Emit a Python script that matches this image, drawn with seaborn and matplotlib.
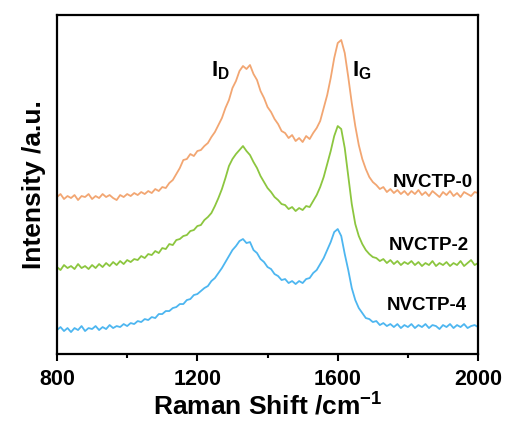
import numpy as np
import pandas as pd
import seaborn as sns
import matplotlib.pyplot as plt

# Raman shift axis (cm^-1), 10 cm^-1 steps
shift = list(range(800, 2001, 10))

# intensities (arbitrary units, stacked offsets included)
nvctp_0 = [157, 160, 155, 158, 156, 159, 154, 158, 157, 160,
           155, 158, 156, 160, 157, 159, 156, 154, 159, 157,
           160, 158, 161, 159, 162, 160, 163, 161, 165, 163,
           167, 166, 171, 174, 180, 186, 194, 195, 200, 198,
           203, 204, 208, 211, 217, 222, 229, 236, 246, 254,
           266, 273, 283, 288, 285, 289, 280, 274, 263, 256,
           247, 242, 235, 230, 223, 221, 216, 219, 213, 216,
           212, 218, 215, 221, 226, 233, 246, 259, 276, 296,
           311, 314, 301, 277, 251, 228, 209, 195, 185, 177,
           172, 169, 165, 167, 162, 165, 161, 164, 160, 163,
           159, 163, 160, 164, 159, 162, 158, 163, 160, 157,
           162, 159, 163, 158, 161, 157, 162, 160, 158, 162,
           161]
nvctp_2 = [87, 84, 89, 86, 88, 85, 90, 86, 88, 85,
           89, 86, 90, 87, 91, 88, 92, 89, 93, 90,
           94, 92, 95, 94, 98, 96, 100, 99, 103, 101,
           106, 105, 110, 109, 114, 115, 118, 119, 123, 124,
           128, 129, 134, 137, 141, 148, 156, 165, 176, 188,
           195, 200, 204, 208, 203, 199, 192, 186, 178, 172,
           166, 162, 157, 154, 150, 149, 145, 147, 143, 146,
           144, 148, 147, 153, 159, 167, 177, 190, 203, 218,
           228, 225, 206, 178, 150, 130, 118, 110, 104, 100,
           97, 96, 93, 95, 91, 94, 90, 93, 89, 92,
           90, 93, 89, 92, 88, 91, 89, 93, 88, 91,
           89, 92, 88, 91, 89, 93, 88, 91, 94, 89,
           91]
nvctp_4 = [24, 27, 23, 26, 22, 26, 24, 28, 23, 26,
           25, 28, 24, 27, 25, 29, 26, 28, 27, 30,
           28, 31, 30, 33, 32, 35, 34, 37, 36, 40,
           40, 43, 43, 46, 47, 50, 50, 54, 55, 59,
           60, 63, 66, 68, 73, 76, 81, 86, 92, 98,
           104, 108, 113, 115, 111, 112, 104, 101, 95, 92,
           87, 85, 80, 78, 74, 75, 71, 73, 70, 73,
           71, 75, 76, 81, 84, 90, 96, 104, 112, 122,
           125, 118, 100, 84, 66, 54, 46, 41, 36, 35,
           32, 33, 29, 31, 28, 30, 27, 30, 26, 29,
           27, 30, 26, 29, 27, 30, 26, 29, 28, 25,
           29, 27, 30, 26, 29, 27, 30, 26, 28, 29,
           27]

samples = ["NVCTP-0", "NVCTP-2", "NVCTP-4"]
colors = ["#F2A672", "#8CC63F", "#4DB6F0"]

df = pd.concat([
    pd.DataFrame({"shift": shift, "intensity": vals, "sample": name})
    for name, vals in zip(samples, [nvctp_0, nvctp_2, nvctp_4])
])

sns.set_style("ticks")
plt.rcParams["font.family"] = ["Liberation Sans", "DejaVu Sans"]
plt.rcParams["mathtext.fontset"] = "custom"
plt.rcParams["mathtext.rm"] = "Liberation Sans:bold"
plt.rcParams["mathtext.bf"] = "Liberation Sans:bold"
plt.rcParams["mathtext.default"] = "bf"
for key in ["text.color", "axes.labelcolor", "xtick.color", "ytick.color"]:
    plt.rcParams[key] = "black"

fig = plt.figure(figsize=(5.07, 4.23), dpi=100)
ax = fig.add_axes([0.1124, 0.163, 0.8306, 0.8015])

sns.lineplot(data=df, x="shift", y="intensity", hue="sample",
             palette=dict(zip(samples, colors)), linewidth=1.3,
             legend=False, ax=ax)

ax.set_xlim(800, 2000)
ax.set_ylim(0, 339)
ax.set_xticks([800, 1200, 1600, 2000])
ax.set_xticks([1000, 1400, 1800], minor=True)
ax.set_yticks([])
ax.tick_params(axis="x", which="major", direction="out", length=5, width=1.5,
               labelsize=15.5, pad=6)
ax.tick_params(axis="x", which="minor", direction="out", length=3, width=1.5)
for lab in ax.get_xticklabels():
    lab.set_fontweight("bold")
for sp in ax.spines.values():
    sp.set_visible(True)
    sp.set_linewidth(1.6)
    sp.set_color("black")

ax.set_xlabel("Raman Shift /cm$^{-1}$", fontsize=19, fontweight="bold",
              labelpad=2)
ax.set_ylabel("Intensity /a.u.", fontsize=19, fontweight="bold", labelpad=8)

# sample names and band labels
label_y = [172, 109, 49]
label_x = [1985, 1975, 1968]
for name, x, y in zip(samples, label_x, label_y):
    ax.text(x, y, name, ha="right", va="center", fontsize=13.5,
            fontweight="bold")
ax.text(1240, 283, "I$_{D}$", fontsize=16, fontweight="bold",
        ha="left", va="center")
ax.text(1640, 283, "I$_{G}$", fontsize=16, fontweight="bold",
        ha="left", va="center")

fig.savefig("out.png", dpi=100)
